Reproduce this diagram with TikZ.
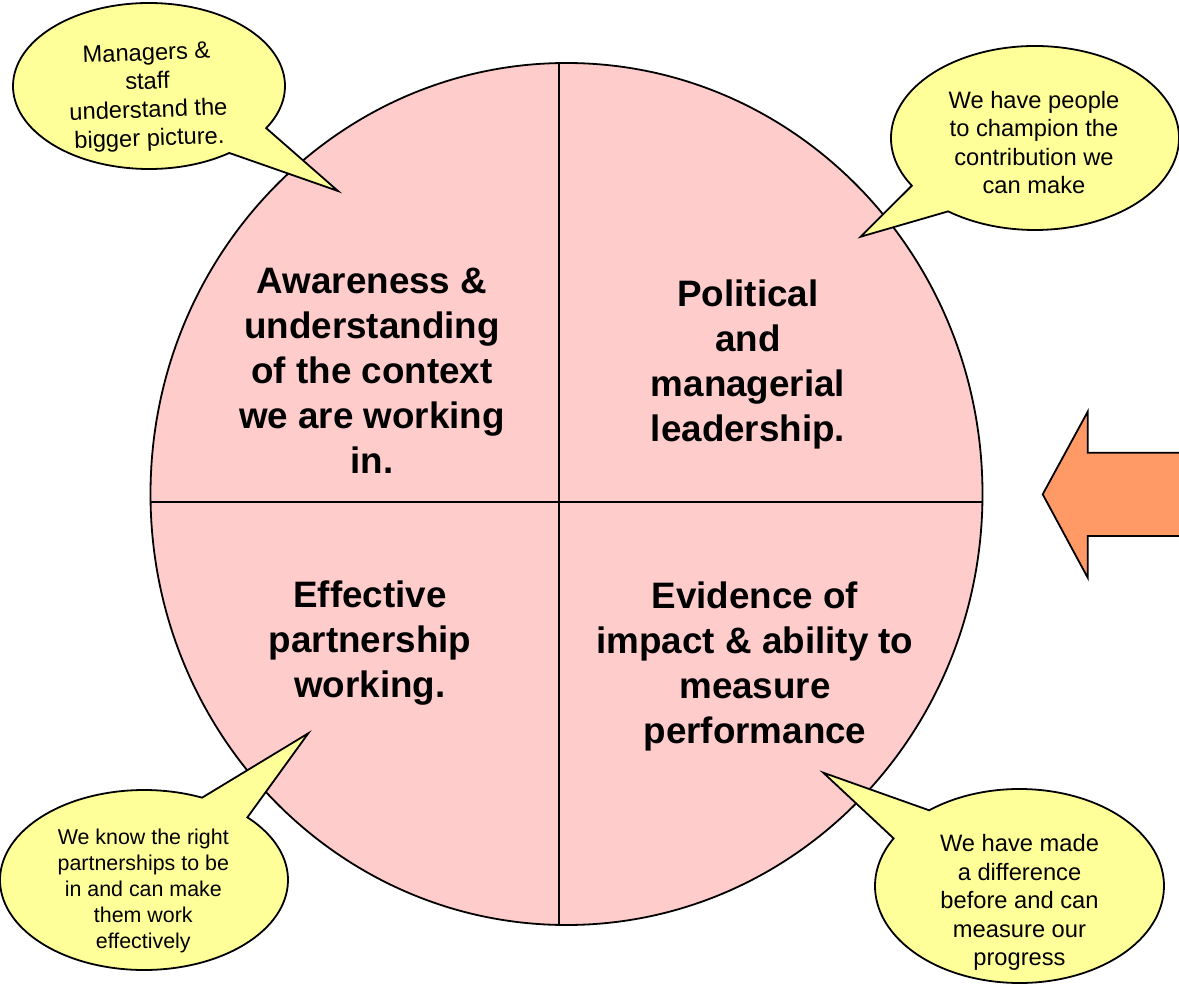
\documentclass[tikz,border=0pt]{standalone}
\usepackage{fontspec}
\setmainfont{Liberation Sans}
\definecolor{circlepink}{RGB}{255,204,204}
\definecolor{calloutyellow}{RGB}{255,255,153}
\definecolor{arroworange}{RGB}{255,153,102}
\begin{document}
\begin{tikzpicture}[x=1pt,y=-1pt,
  outline/.style={draw=black,line width=1.8pt,line join=miter},
  callout/.style={outline,fill=calloutyellow},
  divider/.style={draw=black,line width=1.8pt},
  heading/.style={font=\fontsize{36.8}{45}\selectfont\bfseries,align=center,inner sep=0pt},
  note/.style={font=\fontsize{23.7}{28.5}\selectfont,align=center,inner sep=0pt},
  smallnote/.style={font=\fontsize{21.4}{25.8}\selectfont,align=center,inner sep=0pt}]
\useasboundingbox (0,0) rectangle (1179,984);
% main circle
\coordinate (ctr) at (566.5,494);
\coordinate (vtop) at (559,40);
\coordinate (vbot) at (559,950);
\coordinate (hleft) at (120,502.3);
\coordinate (hright) at (1010,502.3);
\fill[circlepink] (ctr) ellipse[x radius=416,y radius=431];
\begin{scope}
  \clip (ctr) ellipse[x radius=416,y radius=431];
  \draw[divider] (vtop) -- (vbot);
  \draw[divider] (hleft) -- (hright);
\end{scope}
\draw[outline] (ctr) ellipse[x radius=416,y radius=431];
% arrow
\draw[outline,fill=arroworange] (1042.7,494.3) -- (1087.7,411.7) -- (1087.7,452.7) -- (1195,452.7)
  -- (1195,536) -- (1087.7,536) -- (1087.7,577.7) -- cycle;
% callouts
\coordinate (c1) at (149,86);
\coordinate (c2) at (1035,138);
\coordinate (c3) at (144,880);
\coordinate (c4) at (1019.5,886);
\draw[callout] (c1) ++(53.8:136 and 83) arc[start angle=53.8,end angle=390.5,x radius=136,y radius=83] -- (338,191) -- cycle;
\draw[callout] (c2) ++(148.8:144 and 92) arc[start angle=148.8,end angle=487.1,x radius=144,y radius=92] -- (860.7,236.7) -- cycle;
\draw[callout] (c3) ++(315.9:144 and 90) arc[start angle=315.9,end angle=653.8,x radius=144,y radius=90] -- (308.3,733.3) -- cycle;
\draw[callout] (c4) ++(231.3:144.5 and 97) arc[start angle=231.3,end angle=569.4,x radius=144.5,y radius=97] -- (823.3,772.7) -- cycle;
% headings
\node[heading] (aware) at (372,370.3) {Awareness \&\\understanding\\of the context\\we are working\\in.};
\node[heading] (polit) at (748,364) {Political\\and\\managerial\\leadership.};
\node[heading] (effect) at (370,643.5) {Effective\\partnership\\working.};
\node[heading] (evid) at (755,666) {Evidence of\\impact \& ability to\\measure\\performance};
% notes
\node[note,rotate=2] (n1) at (148,97.5) {Managers \&\\staff\\understand the\\bigger picture.};
\node[note] (n2) at (1034,142.4) {We have people\\to champion the\\contribution we\\can make};
\node[smallnote] (n3) at (143.3,891) {We know the right\\partnerships to be\\in and can make\\them work\\effectively};
\node[note] (n4) at (1019.5,902.7) {We have made\\a difference\\before and can\\measure our\\progress};
\end{tikzpicture}
\end{document}
